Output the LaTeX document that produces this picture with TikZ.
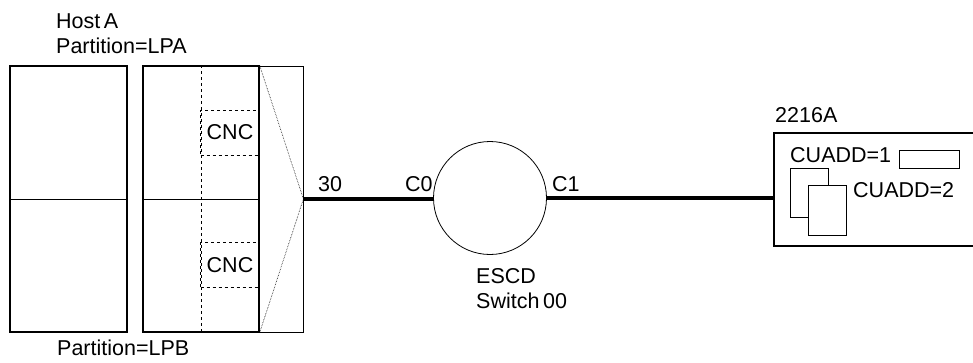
\documentclass[tikz,border=0pt]{standalone}
\usepackage{fontspec}
\setmainfont{Liberation Sans}
\begin{document}
\begin{tikzpicture}[x=1pt,y=-1pt,
	box/.style={rectangle, draw, line width=1.3pt, inner sep=0pt},
	thinbox/.style={rectangle, draw, line width=0.8pt, inner sep=0pt},
	cncbox/.style={rectangle, draw, dashed, line width=0.8pt, inner sep=0pt, minimum width=59pt, minimum height=45pt},
	lbl/.style={anchor=base west, inner sep=0pt, font=\fontsize{21.5}{24}\selectfont},
	link/.style={line width=3.5pt}]

	\useasboundingbox (0,0) rectangle (973,362);

	\node 	(hostA)		at	(56,28) 	[lbl]{Host\,A};
	\node 	(lpa)		at	(56,53) 	[lbl]{Partition=LPA};
	\node 	(lpb)		at	(57,355) 	[lbl]{Partition=LPB};

	\node 	(b1)		at	(68.5,199) 	[box, minimum width=117pt, minimum height=266pt]{};
	\node 	(b2)		at	(201,199) 	[box, minimum width=116pt, minimum height=266pt]{};
	\node 	(port)		at	(281,199) 	[thinbox, minimum width=44pt, minimum height=266pt]{};

	\draw[line width=0.8pt]	(b1.west)	--	(b1.east);
	\draw[line width=0.8pt]	(b2.west)	--	(b2.east);
	\draw[dashed, line width=0.8pt]	(b2.north)	--	(b2.south);

	\node 	(cnc1)		at	(230,132.5) 	[cncbox]{};
	\node 	(cnc2)		at	(230,265) 	[cncbox]{};
	\node 	(cnct1)		at	(cnc1.center) 	[font=\fontsize{21.5}{24}\selectfont]{CNC};
	\node 	(cnct2)		at	(cnc2.center) 	[font=\fontsize{21.5}{24}\selectfont]{CNC};

	\draw[densely dotted, line width=0.6pt]	(b2.north east)	--	(port.east)	--	(b2.south east);

	\node 	(sw)		at	(490,198) 	[circle, draw, line width=0.8pt, inner sep=0pt, minimum size=113pt]{};
	\node 	(cu)		at	(877,189.5) 	[box, minimum width=206pt, minimum height=113pt]{};

	\draw[link]	(port.east)	--	(port.east -| sw.west);
	\draw[link]	(sw.east)	--	(sw.east -| cu.west);

	\node 	(p30)		at	(318,191) 	[lbl]{30};
	\node 	(pc0)		at	(405,191) 	[lbl]{C0};
	\node 	(pc1)		at	(552,191) 	[lbl]{C1};
	\node 	(escd)		at	(476,283) 	[lbl]{ESCD};
	\node 	(swn)		at	(476,308) 	[lbl]{Switch\,00};

	\node 	(cuname)		at	(775,122) 	[lbl]{2216A};
	\node 	(cua1)		at	(790,162) 	[lbl]{CUADD=1};
	\node 	(cua2)		at	(853,197) 	[lbl]{CUADD=2};

	\node 	(r1)		at	(929,159) 	[thinbox, minimum width=60pt, minimum height=18pt]{};
	\node 	(pg1)		at	(809,192.5) 	[thinbox, minimum width=38pt, minimum height=49pt]{};
	\node 	(pg2)		at	(827,210) 	[thinbox, fill=white, minimum width=38pt, minimum height=50pt]{};

\end{tikzpicture}
\end{document}
